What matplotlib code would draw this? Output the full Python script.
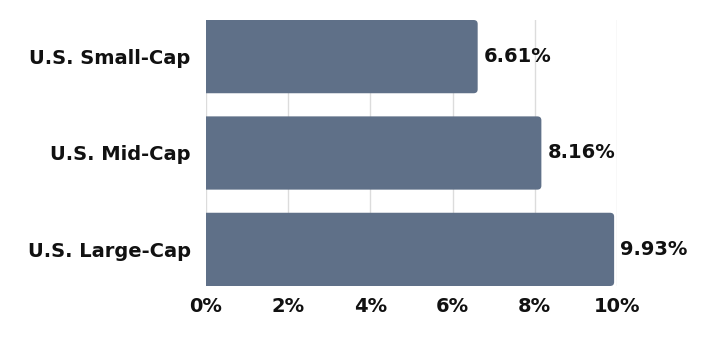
import matplotlib
matplotlib.use('Agg')
import matplotlib.pyplot as plt
from matplotlib.patches import FancyBboxPatch
from matplotlib.ticker import FuncFormatter

categories = ['U.S. Large-Cap', 'U.S. Mid-Cap', 'U.S. Small-Cap']
returns = [9.93, 8.16, 6.61]
x_ticks = [0, 2, 4, 6, 8, 10]

BAR_COLOR = '#5f7088'
FONT = 'DejaVu Sans'
TXT = '#111111'

fig = plt.figure(figsize=(7.09, 3.37), dpi=100)
ax = fig.add_axes([206 / 709, 1 - 286 / 337, 411 / 709, 266 / 337])

ypos = range(len(categories))
bars = ax.barh(ypos, returns, height=0.76, color=BAR_COLOR, zorder=2)
# swap each bar for a copy with a slightly rounded right end;
# the left end starts off-axes so it gets clipped square
for b in bars:
    x0, y0 = b.get_xy()
    w, h = b.get_width(), b.get_height()
    b.set_visible(False)
    ax.add_patch(FancyBboxPatch((x0 - 0.3, y0), w + 0.3, h,
                                boxstyle='round,pad=0,rounding_size=0.1',
                                mutation_aspect=0.4, facecolor=BAR_COLOR,
                                edgecolor='none', zorder=2))

for y, v in zip(ypos, returns):
    ax.text(v + 0.15, y, f'{v:.2f}%', va='center', ha='left', fontsize=14,
            fontweight='bold', family=FONT, color=TXT, clip_on=False)

ax.set_xlim(0, 10)
ax.set_ylim(-0.38, len(categories) - 0.62)
ax.set_xticks(x_ticks)
ax.xaxis.set_major_formatter(FuncFormatter(lambda v, p: f'{v:.0f}%'))
ax.set_yticks(list(ypos))
ax.set_yticklabels(categories)
for lab in ax.get_xticklabels() + ax.get_yticklabels():
    lab.set_fontweight('bold')
    lab.set_fontsize(14)
    lab.set_family(FONT)
    lab.set_color(TXT)
ax.tick_params(axis='both', length=0)
ax.tick_params(axis='y', pad=11)
ax.tick_params(axis='x', pad=8)
ax.grid(axis='x', color='#dcdcdc', linewidth=1, zorder=0)
ax.set_axisbelow(True)
for s in ax.spines.values():
    s.set_visible(False)

plt.savefig('out.png', dpi=100)
